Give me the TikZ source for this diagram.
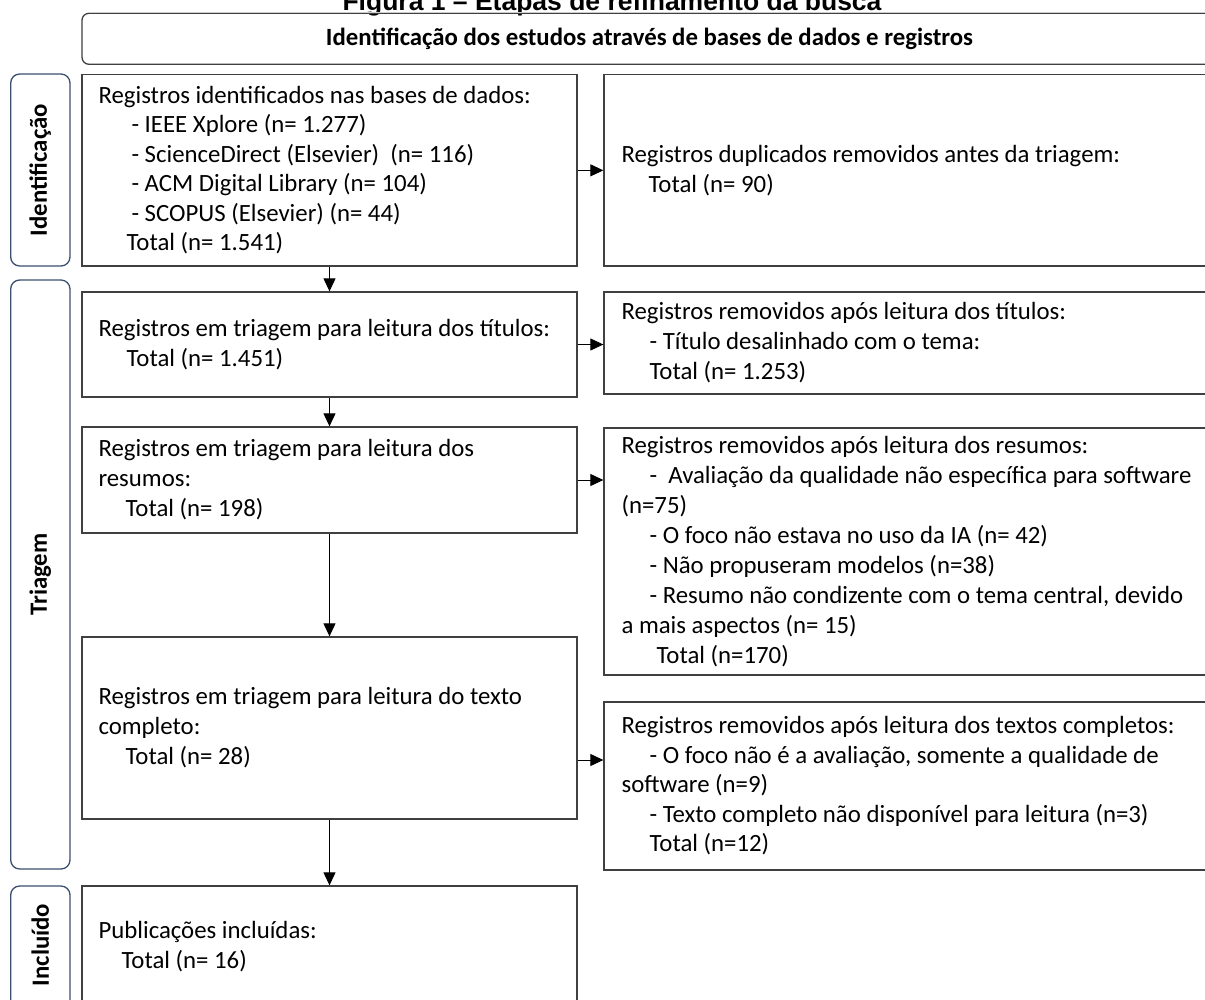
\documentclass[tikz,border=0pt]{standalone}
\usepackage{fontspec}
\setmainfont{Carlito}
\newfontfamily\arialfont{Liberation Sans}
\usetikzlibrary{arrows.meta}
\definecolor{boxline}{RGB}{64,64,64}
\definecolor{lblline}{RGB}{60,80,110}
\definecolor{hdrtop}{RGB}{205,205,205}
\begin{document}
\begin{tikzpicture}[x=1pt,y=-1pt,
  txt/.style={font=\fontsize{24.8pt}{29.5pt}\selectfont, align=left, inner sep=0pt, anchor=west},
  txtw/.style={font=\fontsize{24.8pt}{30pt}\selectfont, align=left, inner sep=0pt, anchor=west},
  mainbox/.style={draw=boxline, line width=1.3pt, minimum width=495pt, inner sep=0pt},
  sidebox/.style={draw=boxline, line width=1.3pt, minimum width=700pt, inner sep=0pt},
  lblbox/.style={draw=lblline, line width=1.3pt, rounded corners=9pt, minimum width=59.3pt, inner sep=0pt},
  lbltxt/.style={rotate=90, inner sep=0pt, font=\fontsize{24.8pt}{29.5pt}\selectfont\bfseries},
  arr/.style={line width=1pt, draw=black, -{Triangle[length=13pt,width=12pt]}}
]
\useasboundingbox (0,0) rectangle (1205,999);
\fill[white] (0,0) rectangle (1205,999);

% title (partly cut by the top edge)
\node[font=\arialfont\bfseries\fontsize{26.5pt}{30pt}\selectfont, anchor=base, inner sep=0pt] (ttl) at (612,10) {Figura 1 – Etapas de refinamento da busca};

% header
\node[draw=boxline, line width=1.3pt, rounded corners=7pt, minimum width=1135pt, minimum height=51pt, inner sep=0pt] (hdr) at (649.5,38.8) {};
\draw[hdrtop, line width=1.3pt] ([xshift=7pt]hdr.north west) -- (hdr.north east);
\node[inner sep=0pt, font=\fontsize{24.8pt}{29.5pt}\selectfont\bfseries] (hdrt) at (649.5,38.8)
      {Identificação dos estudos através de bases de dados e registros};

% phase labels
\node[lblbox, minimum height=192pt] (L1) at (40.35,170) {};
\node[lbltxt] (L1t) at (L1.center) {Identificação};
\node[lblbox, minimum height=589pt] (L2) at (40.35,574.5) {};
\node[lbltxt] (L2t) at (L2.center) {Triagem};
\node[lblbox, minimum height=124pt] (L3) at (40.35,948) {};
\node[lbltxt] (L3t) at (40.35,945) {Incluído};

% main column boxes
\node[mainbox, minimum height=191.3pt] (b1) at (329.5,170.35) {};
\node[mainbox, minimum height=105pt] (b2) at (329.5,344.5) {};
\node[mainbox, minimum height=106pt] (b3) at (329.5,480) {};
\node[mainbox, minimum height=182pt] (b4) at (329.5,728) {};
\node[mainbox, minimum height=122pt] (b5) at (329.5,947) {};

% side column boxes
\node[sidebox, minimum height=191.3pt] (r1) at (954,170.35) {};
\node[sidebox, minimum height=102pt] (r2) at (954,343) {};
\node[sidebox, minimum height=247pt] (r3) at (954,551.5) {};
\node[sidebox, minimum height=168pt] (r4) at (954,786) {};

% texts
\node[txt] (b1t) at ([xshift=17pt]b1.west) {Registros identificados nas bases de dados:\\
\hspace*{33pt}- IEEE Xplore (n= 1.277)\\
\hspace*{33pt}- ScienceDirect (Elsevier)\ \ (n= 116)\\
\hspace*{33pt}- ACM Digital Library (n= 104)\\
\hspace*{33pt}- SCOPUS (Elsevier) (n= 44)\\
\hspace*{28pt}Total (n= 1.541)};

\node[txtw] (b2t) at ([xshift=17pt]b2.west) {Registros em triagem para leitura dos títulos:\\
\hspace*{28pt}Total (n= 1.451)};

\node[txtw] (b3t) at ([xshift=17pt]b3.west) {Registros em triagem para leitura dos\\
resumos:\\
\hspace*{27pt}Total (n= 198)};

\node[txtw] (b4t) at ([xshift=17pt]b4.west) {Registros em triagem para leitura do texto\\
completo:\\
\hspace*{27pt}Total (n= 28)};

\node[txtw] (b5t) at ([xshift=17pt]b5.west) {Publicações incluídas:\\
\hspace*{23pt}Total (n= 16)};

\node[txtw] (r1t) at ([xshift=18pt]r1.west) {Registros duplicados removidos antes da triagem:\\
\hspace*{27pt}Total (n= 90)};

\node[txtw] (r2t) at ([xshift=18pt]r2.west) {Registros removidos após leitura dos títulos:\\
\hspace*{28pt}- Título desalinhado com o tema:\\
\hspace*{28pt}Total (n= 1.253)};

\node[txtw] (r3t) at ([xshift=18pt]r3.west) {Registros removidos após leitura dos resumos:\\
\hspace*{28pt}-\ \ Avaliação da qualidade não específica para software\\
(n=75)\\
\hspace*{28pt}- O foco não estava no uso da IA (n= 42)\\
\hspace*{28pt}- Não propuseram modelos (n=38)\\
\hspace*{28pt}- Resumo não condizente com o tema central, devido\\
a mais aspectos (n= 15)\\
\hspace*{35pt}Total (n=170)};

\node[txt] (r4t) at ([xshift=18pt]r4.west) {Registros removidos após leitura dos textos completos:\\
\hspace*{28pt}- O foco não é a avaliação, somente a qualidade de\\
software (n=9)\\
\hspace*{28pt}- Texto completo não disponível para leitura (n=3)\\
\hspace*{28pt}Total (n=12)};

% connectors
\draw[arr] (b1.south) -- (b2.north);
\draw[arr] (b2.south) -- (b3.north);
\draw[arr] (b3.south) -- (b4.north);
\draw[arr] (b4.south) -- (b5.north);
\draw[arr] (b1.east) -- (b1.east -| r1.west);
\draw[arr] (b2.east) -- (b2.east -| r2.west);
\draw[arr] (b3.east) -- (b3.east -| r3.west);
\draw[arr] ([yshift=-32pt]b4.east) -- ([yshift=-32pt]b4.east -| r4.west);
\end{tikzpicture}
\end{document}
